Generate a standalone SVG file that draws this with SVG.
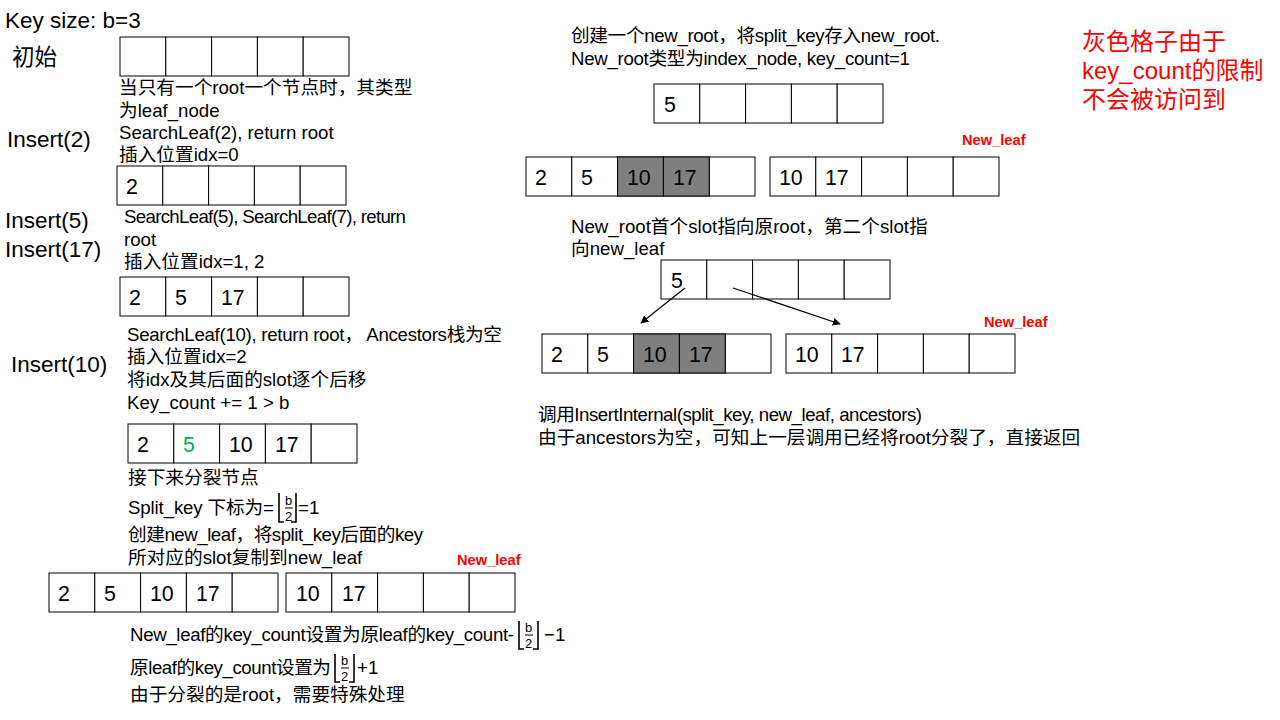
<svg xmlns="http://www.w3.org/2000/svg" width="1280" height="720" viewBox="0 0 1280 720">
<style>
text{font-family:"Liberation Sans","Noto Sans CJK SC",sans-serif;fill:#000}
.t{font-size:18.67px}
.big{font-size:22.5px}
.num{font-size:21.33px}
.red{font-size:24px;fill:#ff0000}
.nl{font-size:14.67px;font-weight:bold;fill:#ff0000}
.frac{font-size:13px}
.cell{fill:#fff;stroke:#000;stroke-width:1}
.gray{fill:#7f7f7f;stroke:#000;stroke-width:1}
.br{fill:none;stroke:#000;stroke-width:1.6}
.conn{stroke:#000;stroke-width:1.2;fill:none;marker-end:url(#ah)}
</style>
<defs>
<marker id="ah" viewBox="0 0 10 10" refX="9" refY="5" markerWidth="8" markerHeight="8" markerUnits="userSpaceOnUse" orient="auto">
<path d="M0,0 L10,5 L0,10 z" fill="#000"/>
</marker>
<g id="arr5">
<rect class="cell" x="0" y="0" width="45.8" height="39"/>
<rect class="cell" x="45.8" y="0" width="45.8" height="39"/>
<rect class="cell" x="91.6" y="0" width="45.8" height="39"/>
<rect class="cell" x="137.4" y="0" width="45.8" height="39"/>
<rect class="cell" x="183.2" y="0" width="45.8" height="39"/>
</g>
</defs>
<rect width="1280" height="720" fill="#fff"/>

<!-- left column labels -->
<g id="labels-left">
<text class="big" x="5" y="28">Key size: b=3</text>
<text class="big" x="12" y="65">初始</text>
<text class="big" x="7" y="147">Insert(2)</text>
<text class="big" x="5" y="228">Insert(5)</text>
<text class="big" x="5" y="257">Insert(17)</text>
<text class="big" x="11" y="372">Insert(10)</text>
</g>

<g id="node-init">
<use href="#arr5" x="120" y="37"/>
</g>
<g id="text-init">
<text class="t" x="119" y="94">当只有一个root一个节点时，其类型</text>
<text class="t" x="119" y="117">为leaf_node</text>
</g>

<g id="text-ins2">
<text class="t" x="119" y="139">SearchLeaf(2), return root</text>
<text class="t" x="119" y="161">插入位置idx=0</text>
</g>
<g id="node-ins2">
<use href="#arr5" x="117" y="166"/>
<text class="num" x="126" y="194">2</text>
</g>

<g id="text-ins5">
<text class="t" x="124" y="223" textLength="282">SearchLeaf(5), SearchLeaf(7), return</text>
<text class="t" x="124" y="246">root</text>
<text class="t" x="124" y="268">插入位置idx=1, 2</text>
</g>
<g id="node-ins17">
<use href="#arr5" x="120" y="277"/>
<text class="num" x="129" y="305">2</text>
<text class="num" x="175" y="305">5</text>
<text class="num" x="221" y="305">17</text>
</g>

<g id="text-ins10">
<text class="t" x="127" y="341" textLength="375">SearchLeaf(10), return root，  Ancestors栈为空</text>
<text class="t" x="127" y="363">插入位置idx=2</text>
<text class="t" x="127" y="386">将idx及其后面的slot逐个后移</text>
<text class="t" x="127" y="409">Key_count += 1 &gt; b</text>
</g>
<g id="node-ins10">
<use href="#arr5" x="128" y="424"/>
<text class="num" x="137" y="452">2</text>
<text class="num" x="183" y="452" style="fill:#00b050">5</text>
<text class="num" x="229" y="452">10</text>
<text class="num" x="275" y="452">17</text>
</g>

<g id="text-split">
<text class="t" x="128" y="484">接下来分裂节点</text>
<text class="t" x="128" y="514" textLength="146">Split_key 下标为=</text>
<path class="br" d="M279,493 V522 H284"/>
<text class="frac" x="285" y="505">b</text>
<line x1="285" y1="508" x2="293" y2="508" stroke="#000" stroke-width="1"/>
<text class="frac" x="285" y="521">2</text>
<path class="br" d="M296,493 V522 H291"/>
<text class="t" x="298" y="514">=1</text>
<text class="t" x="128" y="541" textLength="295">创建new_leaf，将split_key后面的key</text>
<text class="t" x="128" y="564">所对应的slot复制到new_leaf</text>
<text class="nl" x="457" y="565">New_leaf</text>
</g>
<g id="node-split-left">
<use href="#arr5" x="49" y="573"/>
<text class="num" x="58" y="601">2</text>
<text class="num" x="104" y="601">5</text>
<text class="num" x="150" y="601">10</text>
<text class="num" x="196" y="601">17</text>
</g>
<g id="node-split-right">
<use href="#arr5" x="286" y="573"/>
<text class="num" x="296" y="601">10</text>
<text class="num" x="342" y="601">17</text>
</g>

<g id="text-keycount">
<text class="t" x="130" y="641" textLength="384">New_leaf的key_count设置为原leaf的key_count-</text>
<path class="br" d="M519,621 V649 H524"/>
<text class="frac" x="525" y="632">b</text>
<line x1="525" y1="635" x2="533" y2="635" stroke="#000" stroke-width="1"/>
<text class="frac" x="525" y="648">2</text>
<path class="br" d="M538,621 V649 H533"/>
<text class="t" x="544" y="641">−1</text>
<text class="t" x="130" y="674" textLength="201">原leaf的key_count设置为</text>
<path class="br" d="M335,654 V682 H340"/>
<text class="frac" x="341" y="665">b</text>
<line x1="341" y1="668" x2="349" y2="668" stroke="#000" stroke-width="1"/>
<text class="frac" x="341" y="681">2</text>
<path class="br" d="M354,654 V682 H349"/>
<text class="t" x="357" y="674">+1</text>
<text class="t" x="130" y="701">由于分裂的是root，需要特殊处理</text>
</g>

<!-- right column -->
<g id="text-newroot">
<text class="t" x="571" y="42" textLength="369">创建一个new_root，将split_key存入new_root.</text>
<text class="t" x="571" y="65" textLength="339">New_root类型为index_node, key_count=1</text>
</g>
<g id="node-newroot1">
<use href="#arr5" x="654" y="84"/>
<text class="num" x="664" y="112">5</text>
</g>
<g id="node-row1-left">
<use href="#arr5" x="526" y="157"/>
<rect class="gray" x="617.6" y="157" width="45.8" height="39"/>
<rect class="gray" x="663.4" y="157" width="45.8" height="39"/>
<text class="num" x="535" y="185">2</text>
<text class="num" x="581" y="185">5</text>
<text class="num" x="627" y="185">10</text>
<text class="num" x="673" y="185">17</text>
</g>
<g id="node-row1-right">
<text class="nl" x="962" y="145">New_leaf</text>
<use href="#arr5" x="770" y="157"/>
<text class="num" x="779" y="185">10</text>
<text class="num" x="825" y="185">17</text>
</g>

<g id="text-pointers">
<text class="t" x="571" y="233">New_root首个slot指向原root，第二个slot指</text>
<text class="t" x="571" y="255">向new_leaf</text>
</g>
<g id="node-newroot2">
<use href="#arr5" x="661" y="260"/>
<text class="num" x="671" y="288">5</text>
</g>
<g id="node-row2-left">
<use href="#arr5" x="542" y="334"/>
<rect class="gray" x="633.6" y="334" width="45.8" height="39"/>
<rect class="gray" x="679.4" y="334" width="45.8" height="39"/>
<text class="num" x="551" y="362">2</text>
<text class="num" x="597" y="362">5</text>
<text class="num" x="643" y="362">10</text>
<text class="num" x="689" y="362">17</text>
</g>
<g id="node-row2-right">
<text class="nl" x="984" y="327">New_leaf</text>
<use href="#arr5" x="786" y="334"/>
<text class="num" x="795" y="362">10</text>
<text class="num" x="841" y="362">17</text>
</g>

<g id="connectors">
<line class="conn" x1="685" y1="288" x2="641" y2="323"/>
<line class="conn" x1="733" y1="288" x2="840" y2="324"/>
</g>

<g id="text-internal">
<text class="t" x="538" y="421" textLength="384">调用InsertInternal(split_key, new_leaf, ancestors)</text>
<text class="t" x="538" y="444">由于ancestors为空，可知上一层调用已经将root分裂了，直接返回</text>
</g>

<g id="note-red">
<text class="red" x="1082" y="50">灰色格子由于</text>
<text class="red" x="1082" y="79">key_count的限制</text>
<text class="red" x="1082" y="108">不会被访问到</text>
</g>
</svg>
